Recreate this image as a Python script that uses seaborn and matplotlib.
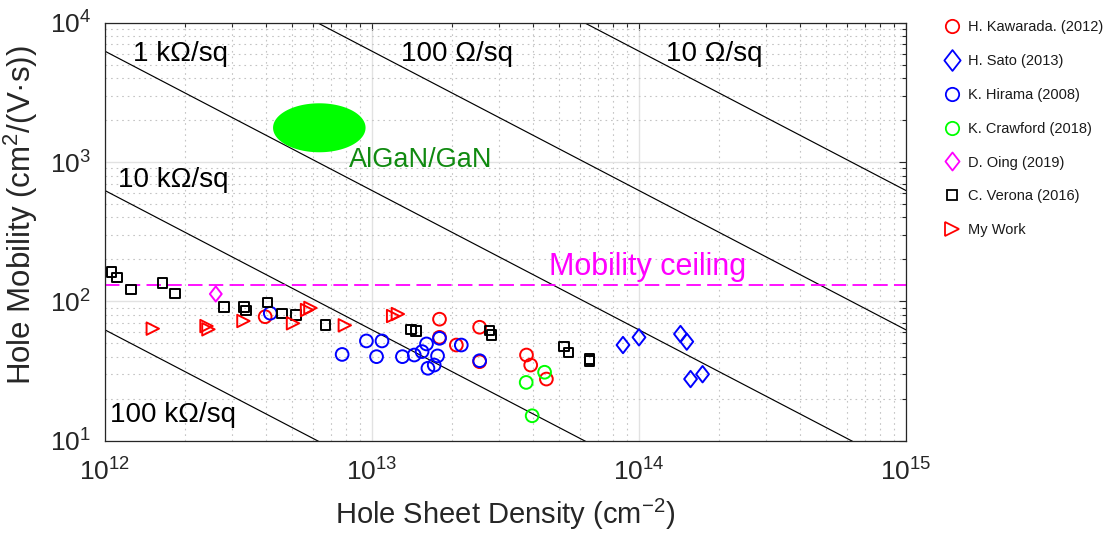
import numpy as np
import pandas as pd
import matplotlib
matplotlib.use("Agg")
import matplotlib.pyplot as plt
import seaborn as sns
from matplotlib.lines import Line2D
from matplotlib.path import Path
from matplotlib.ticker import LogLocator, NullFormatter

# ---------------- data ----------------
kawarada_p = [3.98e12, 1.79e13, 1.79e13, 2.07e13, 2.53e13, 2.53e13, 3.79e13, 3.93e13, 4.50e13]
kawarada_mu = [77.6, 74.5, 55.2, 48.6, 65.2, 36.9, 41.2, 34.9, 27.7]

sato_p = [8.71e13, 1.00e14, 1.43e14, 1.51e14, 1.56e14, 1.73e14]
sato_mu = [48.6, 55.2, 58.3, 51.4, 27.7, 30.0]

hirama_p = [4.16e12, 7.73e12, 9.53e12, 1.09e13, 1.04e13, 1.30e13, 1.44e13, 1.54e13,
            1.60e13, 1.76e13, 1.71e13, 1.62e13, 1.79e13, 2.16e13, 2.53e13]
hirama_mu = [82.2, 41.6, 52.0, 52.0, 40.1, 40.1, 41.2, 43.6,
             49.5, 40.6, 34.9, 33.1, 54.3, 48.6, 37.5]

crawford_p = [3.78e13, 4.43e13, 3.98e13]
crawford_mu = [26.2, 31.0, 15.1]

oing_p = [2.60e12]
oing_mu = [113.0]

verona_p = [1.06e12, 1.11e12, 1.25e12, 1.64e12, 1.83e12, 2.79e12, 3.32e12, 3.37e12,
            4.06e12, 4.60e12, 5.19e12, 6.70e12, 1.40e13, 1.46e13, 2.76e13, 2.80e13,
            5.24e13, 5.44e13, 6.54e13, 6.54e13]
verona_mu = [163, 149, 122, 135, 114, 90.8, 90.8, 85.8,
             97.9, 82.2, 79.9, 67.7, 63.1, 61.4, 61.7, 57.4,
             47.3, 43.1, 38.6, 37.4]

mywork_p = [1.51e12, 2.40e12, 2.44e12, 3.30e12, 5.06e12, 5.71e12, 5.88e12, 7.91e12, 1.20e13, 1.25e13]
mywork_mu = [63.7, 66.5, 63.0, 72.3, 69.6, 86.7, 89.7, 67.3, 78.5, 81.1]

sheet_res = [1e5, 1e4, 1e3, 1e2, 1e1]          # ohm/sq
sheet_res_labels = ["100 kΩ/sq", "10 kΩ/sq", "1 kΩ/sq", "100 Ω/sq", "10 Ω/sq"]
density_range = [1e12, 1e15]
mobility_ceiling = 130.0
q = 1.602e-19

algan_p_range = [4.26e12, 9.46e12]
algan_mu_range = [1175.0, 2640.0]

legend_labels = ["H. Kawarada. (2012)", "H. Sato (2013)", "K. Hirama (2008)",
                 "K. Crawford (2018)", "D. Oing (2019)", "C. Verona (2016)", "My Work"]

# ---------------- style ----------------
sns.set_theme(style="white")
plt.rcParams["font.family"] = ["Liberation Sans", "DejaVu Sans"]
plt.rcParams["mathtext.fontset"] = "custom"
plt.rcParams["mathtext.rm"] = "Liberation Sans"
plt.rcParams["mathtext.it"] = "Liberation Sans"
plt.rcParams["mathtext.default"] = "regular"

fig = plt.figure(figsize=(11.14, 5.33), dpi=100)
ax = fig.add_axes([0.09425, 0.17317, 0.71903, 0.78424])
ax.set_xscale("log")
ax.set_yscale("log")

TXT = "#262626"

# iso sheet-resistance lines
for R in sheet_res:
    pp = np.array(density_range)
    sns.lineplot(x=pp, y=1.0 / (q * R * pp), color="black", lw=0.85, ax=ax,
                 estimator=None, sort=False, zorder=2)

# mobility ceiling
ax.axhline(mobility_ceiling, color="#ff00ff", lw=1.3, ls=(0, (8, 3.5)), zorder=2)

# AlGaN/GaN region (ellipse in log space)
t = np.linspace(0, 2 * np.pi, 200)
lx = np.log10(algan_p_range)
ly = np.log10(algan_mu_range)
cx, rx = lx.mean(), (lx[1] - lx[0]) / 2
cy, ry = ly.mean(), (ly[1] - ly[0]) / 2
ax.fill(10 ** (cx + rx * np.cos(t)), 10 ** (cy + ry * np.sin(t)), color="#00ff00", lw=0, zorder=2.5)

# markers
diamond = Path([(0, 1), (0.78, 0), (0, -1), (-0.78, 0), (0, 1)],
               [Path.MOVETO, Path.LINETO, Path.LINETO, Path.LINETO, Path.CLOSEPOLY])

series = [
    (kawarada_p, kawarada_mu, "o", "#ff0000", 84),
    (sato_p, sato_mu, diamond, "#0000ff", 140),
    (hirama_p, hirama_mu, "o", "#0000ff", 84),
    (crawford_p, crawford_mu, "o", "#00ff00", 84),
    (oing_p, oing_mu, diamond, "#ff00ff", 120),
    (verona_p, verona_mu, "s", "#000000", 46),
    (mywork_p, mywork_mu, ">", "#ff0000", 80),
]
for xs, ys, mk, col, s in series:
    sns.scatterplot(x=xs, y=ys, marker=mk, s=s, facecolor="none", edgecolor=col,
                    linewidth=1.4, ax=ax, zorder=3, legend=False)

ax.set_xlim(density_range)
ax.set_ylim(1e1, 1e4)

# grid and ticks
ax.xaxis.set_major_locator(LogLocator(base=10, numticks=10))
ax.yaxis.set_major_locator(LogLocator(base=10, numticks=10))
ax.xaxis.set_minor_locator(LogLocator(base=10, subs=np.arange(2, 10), numticks=50))
ax.yaxis.set_minor_locator(LogLocator(base=10, subs=np.arange(2, 10), numticks=50))
ax.xaxis.set_minor_formatter(NullFormatter())
ax.yaxis.set_minor_formatter(NullFormatter())
ax.grid(which="major", color="#e2e2e2", lw=1.0, ls="-", zorder=0)
ax.grid(which="minor", color="#c4c4c4", lw=0.8, ls=(0, (1.5, 3.5)), zorder=0)
ax.set_axisbelow(True)
ax.tick_params(which="both", direction="in", top=True, right=True, colors=TXT, width=0.8)
ax.tick_params(which="major", length=5)
ax.tick_params(which="minor", length=2.6)
ax.tick_params(axis="x", which="major", labelsize=19, pad=13)
ax.tick_params(axis="y", which="major", labelsize=19, pad=10)
for sp in ax.spines.values():
    sp.set_color(TXT)
    sp.set_linewidth(0.9)
    sp.set_visible(True)

ax.set_xlabel("Hole Sheet Density (cm$^{-2}$)", fontsize=21, color=TXT)
ax.set_ylabel("Hole Mobility (cm$^{2}$/(V·s))", fontsize=22.5, color=TXT)
ax.xaxis.set_label_coords(0.5, -0.1345)
ax.yaxis.set_label_coords(-0.081, 0.54)

# annotations
ann = [
    (sheet_res_labels[2], 1.27e12, 5350),
    (sheet_res_labels[3], 1.28e13, 5350),
    (sheet_res_labels[4], 1.26e14, 5350),
    (sheet_res_labels[1], 1.12e12, 662),
    (sheet_res_labels[0], 1.04e12, 13.7),
]
for txt, xx, yy in ann:
    ax.text(xx, yy, txt, fontsize=20, color="black", ha="left", va="baseline", zorder=4)
ax.text(8.18e12, 923, "AlGaN/GaN", fontsize=19.5, color="#108a10", ha="left", va="baseline", zorder=4)
ax.text(4.59e13, 154.7, "Mobility ceiling", fontsize=22, color="#ff00ff", ha="left", va="baseline", zorder=4)

# legend
leg_ms = [9.6, 15.0, 9.6, 9.6, 13.0, 7.0, 9.4]
handles = []
for (xs, ys, mk, col, s), ms in zip(series, leg_ms):
    handles.append(Line2D([], [], ls="none", marker=mk, markersize=ms, markerfacecolor="none",
                          markeredgecolor=col, markeredgewidth=1.3))
leg = fig.legend(handles, legend_labels, loc="upper left", bbox_to_anchor=(0.847, 0.962),
                 frameon=False, fontsize=10.5, handlelength=1.2, handletextpad=0.45,
                 labelspacing=1.36, borderpad=0, borderaxespad=0)
for tx in leg.get_texts():
    tx.set_color("#1a1a1a")

fig.savefig("out.png", dpi=100)
